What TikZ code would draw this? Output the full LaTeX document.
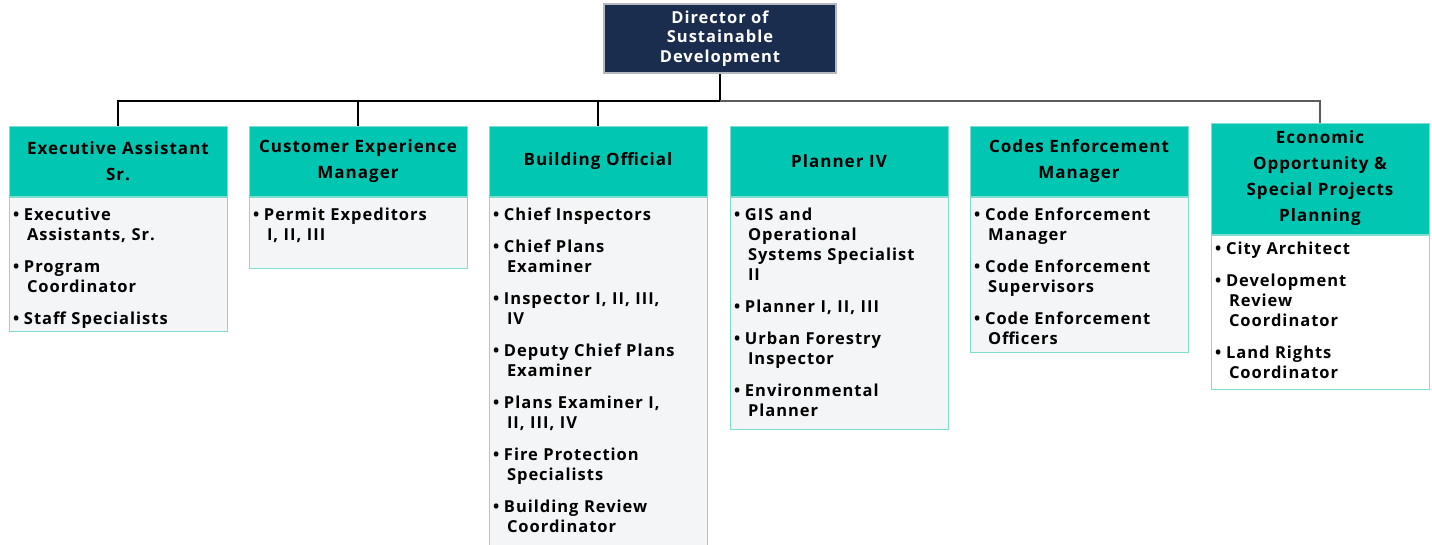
\documentclass[tikz,border=0pt]{standalone}
\usepackage{fontspec}
\setmainfont{Open Sans}[LetterSpace=6]
\usetikzlibrary{positioning}
\definecolor{orgnavy}{HTML}{1B2D4F}
\definecolor{orgteal}{HTML}{00C6B2}
\definecolor{orgline}{HTML}{7FDDD2}
\definecolor{orgpale}{HTML}{F4F5F7}
\definecolor{orgrim}{HTML}{B4B9C0}
\definecolor{orggrey}{HTML}{5C5C5C}
\newcommand{\orgitem}[1]{\noindent\hangindent=14pt\hangafter=1\makebox[11pt][l]{\textbullet}#1\par\vspace{12pt}}
\tikzset{
  topbox/.style={draw=orgrim,fill=orgnavy,line width=1.5pt,text=white,align=center,minimum width=232pt,minimum height=69pt,inner sep=0pt,font=\bfseries\fontsize{16.5}{19.5}\selectfont},
  head/.style={draw=orgline,fill=orgteal,line width=1pt,text width=210pt,inner xsep=4pt,align=center,minimum height=70pt,font=\bfseries\fontsize{17}{26}\selectfont},
  body/.style={draw=orgline,fill=orgpale,line width=1pt,text width=210pt,inner xsep=4pt,inner ysep=0pt,align=left,text height=23pt,font=\bfseries\fontsize{16.5}{20}\selectfont},
  trunk/.style={draw=black,line width=2pt},
  branch/.style={draw=orggrey,line width=1.2pt},
}
\begin{document}
\begin{tikzpicture}[x=1pt,y=-1pt]
  \useasboundingbox (0,0) rectangle (1432,544);
  \node[topbox](dir) at (720,38.5){Director of\\Sustainable\\Development};
  \foreach \i/\x/\t in {1/118/{Executive Assistant\\Sr.},2/358/{Customer Experience\\Manager},3/598/{Building Official},4/839/{Planner IV},5/1079/{Codes Enforcement\\Manager}}{
    \node[head](h\i) at (\x,161){\t};}
  \node[head,minimum height=111pt](h6) at (1320,178.5){Economic\\Opportunity \&\\Special Projects\\Planning};
  % staff lists
  \node[body,text depth=111pt,below=0pt of h1](b1){\orgitem{Executive\newline Assistants, Sr.}\orgitem{Program\newline Coordinator}\orgitem{Staff Specialists}};
  \node[body,text depth=48pt,below=0pt of h2](b2){\orgitem{Permit Expeditors\newline I, II, III}};
  \node[body,text depth=337pt,below=0pt of h3](b3){\orgitem{Chief Inspectors}\orgitem{Chief Plans\newline Examiner}\orgitem{Inspector I, II, III,\newline IV}\orgitem{Deputy Chief Plans\newline Examiner}\orgitem{Plans Examiner I,\newline II, III, IV}\orgitem{Fire Protection\newline Specialists}\orgitem{Building Review\newline Coordinator}};
  \node[body,text depth=209pt,below=0pt of h4](b4){\orgitem{GIS and\newline Operational\newline Systems Specialist\newline II}\orgitem{Planner I, II, III}\orgitem{Urban Forestry\newline Inspector}\orgitem{Environmental\newline Planner}};
  \node[body,text depth=132pt,below=0pt of h5](b5){\orgitem{Code Enforcement\newline Manager}\orgitem{Code Enforcement\newline Supervisors}\orgitem{Code Enforcement\newline Officers}};
  \node[body,fill=white,text height=19pt,text depth=135pt,below=0pt of h6](b6){\orgitem{City Architect}\orgitem{Development\newline Review\newline Coordinator}\orgitem{Land Rights\newline Coordinator}};
  % reporting lines
  \coordinate (bus) at (720,101);
  \draw[trunk] (dir.south) -- (bus) -| (h1.north);
  \draw[trunk] (bus -| h2.north) -- (h2.north);
  \draw[trunk] (bus -| h3.north) -- (h3.north);
  \draw[branch] (bus) -| (h6.north);
\end{tikzpicture}
\end{document}
